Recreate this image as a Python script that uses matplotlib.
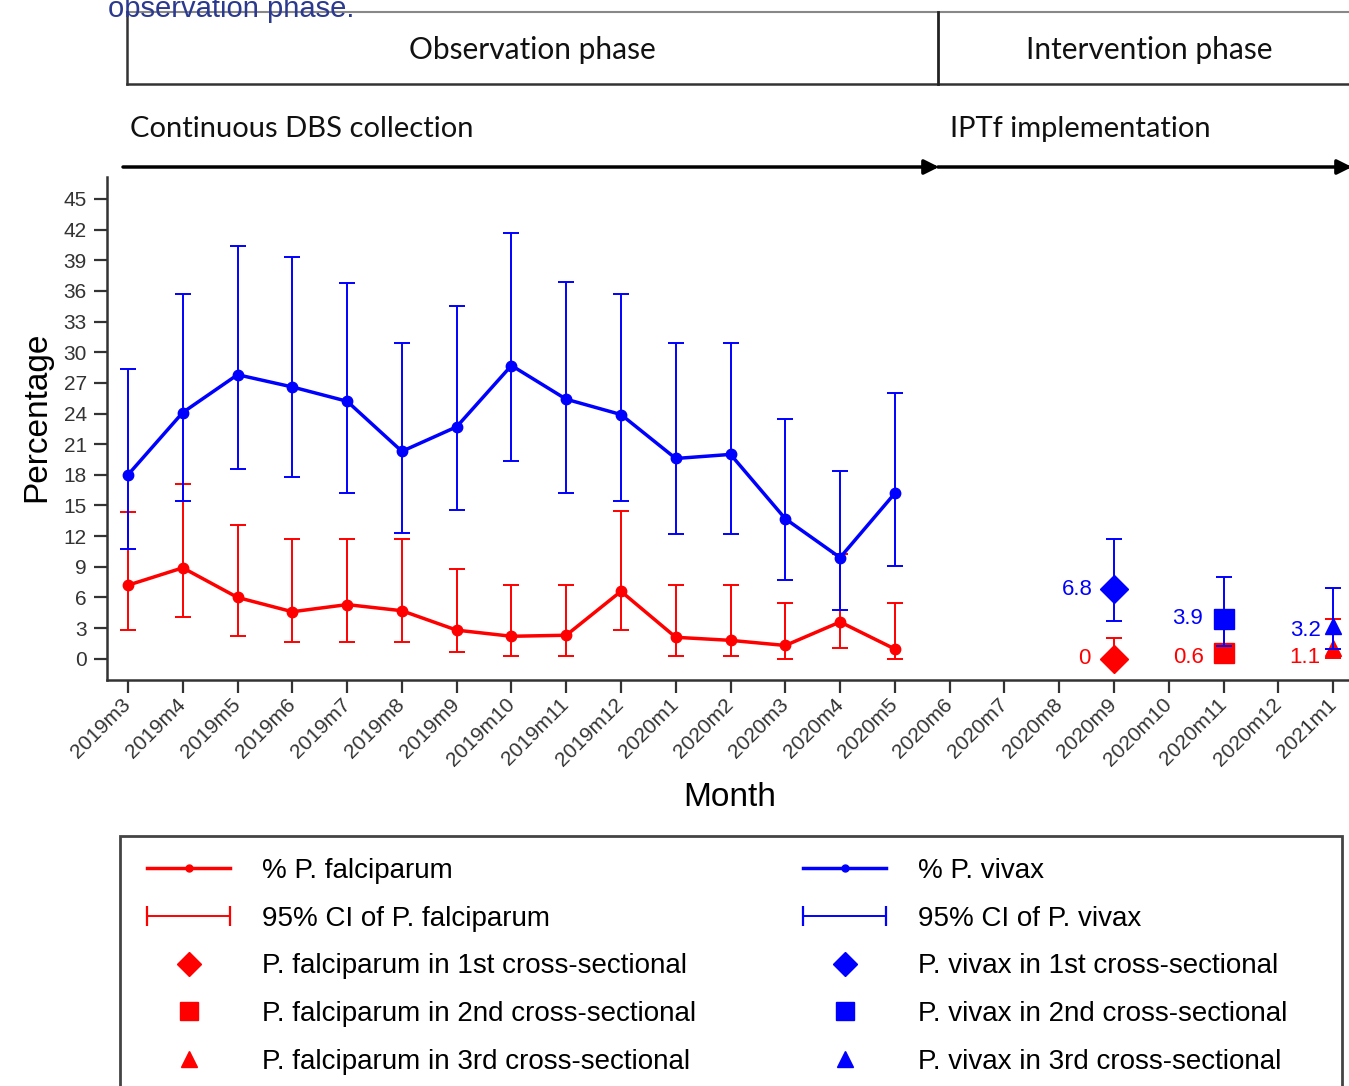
import matplotlib
matplotlib.use("Agg")
import matplotlib.pyplot as plt
from matplotlib.lines import Line2D
from matplotlib.patches import Rectangle, FancyArrowPatch
from matplotlib.legend_handler import HandlerLine2D

plt.rcParams['font.family'] = ['Liberation Sans', 'DejaVu Sans']

W, H = 1349, 1086

# ---- data ----
months = ['2019m3', '2019m4', '2019m5', '2019m6', '2019m7', '2019m8', '2019m9',
          '2019m10', '2019m11', '2019m12', '2020m1', '2020m2', '2020m3', '2020m4',
          '2020m5', '2020m6', '2020m7', '2020m8', '2020m9', '2020m10', '2020m11',
          '2020m12', '2021m1']

# continuous DBS collection, 2019m3 - 2020m5
pv_pct = [18.0, 24.1, 27.8, 26.6, 25.2, 20.3, 22.7, 28.7, 25.4, 23.9, 19.6, 20.0, 13.7, 9.9, 16.2]
pv_lo = [10.7, 15.4, 18.6, 17.8, 16.2, 12.3, 14.6, 19.4, 16.2, 15.4, 12.2, 12.2, 7.7, 4.8, 9.1]
pv_hi = [28.4, 35.7, 40.4, 39.3, 36.8, 30.9, 34.5, 41.7, 36.9, 35.7, 30.9, 30.9, 23.5, 18.4, 26.0]

pf_pct = [7.2, 8.9, 6.0, 4.6, 5.3, 4.7, 2.8, 2.2, 2.3, 6.6, 2.1, 1.8, 1.3, 3.6, 0.95]
pf_lo = [2.8, 4.1, 2.2, 1.6, 1.6, 1.6, 0.65, 0.26, 0.26, 2.8, 0.26, 0.26, 0.0, 1.1, 0.0]
pf_hi = [14.4, 17.1, 13.1, 11.7, 11.7, 11.7, 8.8, 7.2, 7.2, 14.5, 7.2, 7.2, 5.5, 10.3, 5.5]

# cross-sectional surveys
cs_months = ['2020m9', '2020m11', '2021m1']
cs_markers = ['D', 's', '^']
pv_cs = [6.8, 3.9, 3.2]
pv_cs_lo = [3.7, 1.2, 1.0]
pv_cs_hi = [11.7, 8.0, 6.9]
pf_cs = [0, 0.6, 1.1]
pf_cs_lo = [0, 0.1, 0.1]
pf_cs_hi = [2.0, 3.3, 3.9]

# label offsets (points) for the cross-sectional value labels
pv_lab_off = [(-15, 0), (-15, 0), (-9, -3)]
pf_lab_off = [(-17, 0), (-14, -3.5), (-9, -7)]
cs_ms = {'D': 14, 's': 14.5, '^': 12}

fig = plt.figure(figsize=(W / 100, H / 100), dpi=100)

ax = fig.add_axes([107 / W, 1 - 680 / H, 1 - 107 / W, (680 - 177) / H])

x_main = list(range(len(pf_pct)))
ax.errorbar(x_main, pf_pct, yerr=[[p - l for p, l in zip(pf_pct, pf_lo)],
                                  [h - p for p, h in zip(pf_pct, pf_hi)]],
            color='red', lw=2.5, marker='o', ms=7.5, elinewidth=1.4,
            capsize=6, capthick=1.4, zorder=2)
ax.errorbar(x_main, pv_pct, yerr=[[p - l for p, l in zip(pv_pct, pv_lo)],
                                  [h - p for p, h in zip(pv_pct, pv_hi)]],
            color='blue', lw=2.5, marker='o', ms=7.5, elinewidth=1.4,
            capsize=6, capthick=1.4, zorder=3)

for i, m in enumerate(cs_months):
    xi = months.index(m)
    mk = cs_markers[i]
    ax.errorbar([xi], [pf_cs[i]], yerr=[[pf_cs[i] - pf_cs_lo[i]], [pf_cs_hi[i] - pf_cs[i]]],
                color='red', ls='none', marker=mk, ms=cs_ms[mk], elinewidth=1.4,
                capsize=6, capthick=1.4, zorder=2, clip_on=False)
    ax.errorbar([xi], [pv_cs[i]], yerr=[[pv_cs[i] - pv_cs_lo[i]], [pv_cs_hi[i] - pv_cs[i]]],
                color='blue', ls='none', marker=mk, ms=cs_ms[mk], elinewidth=1.4,
                capsize=6, capthick=1.4, zorder=3, clip_on=False)
    ax.annotate(f'{pv_cs[i]:g}', (xi, pv_cs[i]), xytext=pv_lab_off[i],
                textcoords='offset points', ha='right', va='center',
                color='blue', fontsize=16)
    ax.annotate(f'{pf_cs[i]:g}', (xi, pf_cs[i]), xytext=pf_lab_off[i],
                textcoords='offset points', ha='right', va='center',
                color='red', fontsize=16)

ax.set_xlim(-0.383, 22.29)
ax.set_ylim(-2.08, 47.15)
ax.set_yticks(range(0, 46, 3))
ax.set_xticks(range(len(months)))
ax.set_xticklabels(months, rotation=45, ha='right', va='center', rotation_mode='anchor')
ax.tick_params(axis='both', length=9.5, width=1.6, color='#333333',
               labelcolor='#333333', labelsize=15)
ax.tick_params(axis='y', pad=5)
ax.tick_params(axis='x', pad=6)
for s in ['top', 'right']:
    ax.spines[s].set_visible(False)
for s in ['left', 'bottom']:
    ax.spines[s].set_color('#333333')
    ax.spines[s].set_linewidth(1.8)

ax.set_ylabel('Percentage', fontsize=24)
ax.set_xlabel('Month', fontsize=24)
ax.yaxis.set_label_coords(-70 / (W - 107), (680 - 417) / (680 - 177))
ax.xaxis.set_label_coords((730 - 107) / (W - 107), -(798 - 680) / (680 - 177))
ax.xaxis.label.set_va('center')
ax.yaxis.label.set_va('center')

# ---- phase header ----
def fx(px):
    return px / W

def fy(py):
    return 1 - py / H

hdr_font = ['Lato', 'DejaVu Sans']
fig.add_artist(Line2D([fx(127), 1.0], [fy(12), fy(12)], color='#888888', lw=1.5))
fig.add_artist(Line2D([fx(127), 1.0], [fy(84), fy(84)], color='#333333', lw=1.8))
fig.add_artist(Line2D([fx(127), fx(127)], [fy(12), fy(84)], color='#333333', lw=1.8))
fig.add_artist(Line2D([fx(938), fx(938)], [fy(12), fy(84)], color='#222222', lw=2))
fig.text(fx(532), fy(50), 'Observation phase', ha='center', va='center',
         fontsize=21.5, family=hdr_font, color='#111111')
fig.text(fx(1149), fy(50), 'Intervention phase', ha='center', va='center',
         fontsize=21.5, family=hdr_font, color='#111111')
fig.text(fx(130), fy(129), 'Continuous DBS collection', ha='left', va='center',
         fontsize=21, family=hdr_font, color='#111111')
fig.text(fx(950), fy(129), 'IPTf implementation', ha='left', va='center',
         fontsize=21, family=hdr_font, color='#111111')

for x0, x1 in [(123, 939), (938, 1352)]:
    fig.add_artist(FancyArrowPatch((fx(x0), fy(167)), (fx(x1), fy(167)),
                                   transform=fig.transFigure, arrowstyle='-|>',
                                   mutation_scale=22, lw=2.5, color='black',
                                   shrinkA=0, shrinkB=0))

fig.text(fx(108), fy(17), 'observation phase.', ha='left', va='baseline',
         fontsize=21, color='#2B3A8F')

# ---- legend ----
fig.add_artist(Rectangle((fx(120), -0.02), fx(1342) - fx(120), fy(836) + 0.02,
                         transform=fig.transFigure, fill=False,
                         edgecolor='#444444', lw=2))

def legend_handles(col):
    return [
        Line2D([], [], color=col, lw=2.5, marker='o', ms=5),
        Line2D([], [], color=col, lw=1.4, marker='|', ms=14, mew=1.6),
        Line2D([], [], color=col, ls='none', marker='D', ms=12),
        Line2D([], [], color=col, ls='none', marker='s', ms=13),
        Line2D([], [], color=col, ls='none', marker='^', ms=11),
    ]

for col, name, x_anchor in [('red', 'P. falciparum', 147), ('blue', 'P. vivax', 803)]:
    hs = legend_handles(col)
    labels = [f'% {name}', f'95% CI of {name}', f'{name} in 1st cross-sectional',
              f'{name} in 2nd cross-sectional', f'{name} in 3rd cross-sectional']
    fig.legend(hs, labels, loc='upper left', bbox_to_anchor=(fx(x_anchor), fy(858)),
               frameon=False, fontsize=20, handlelength=3.0, handletextpad=1.15,
               labelspacing=0.78, borderaxespad=0, borderpad=0,
               handler_map={hs[1]: HandlerLine2D(numpoints=2, marker_pad=0)})

fig.savefig('out.png', dpi=100)
